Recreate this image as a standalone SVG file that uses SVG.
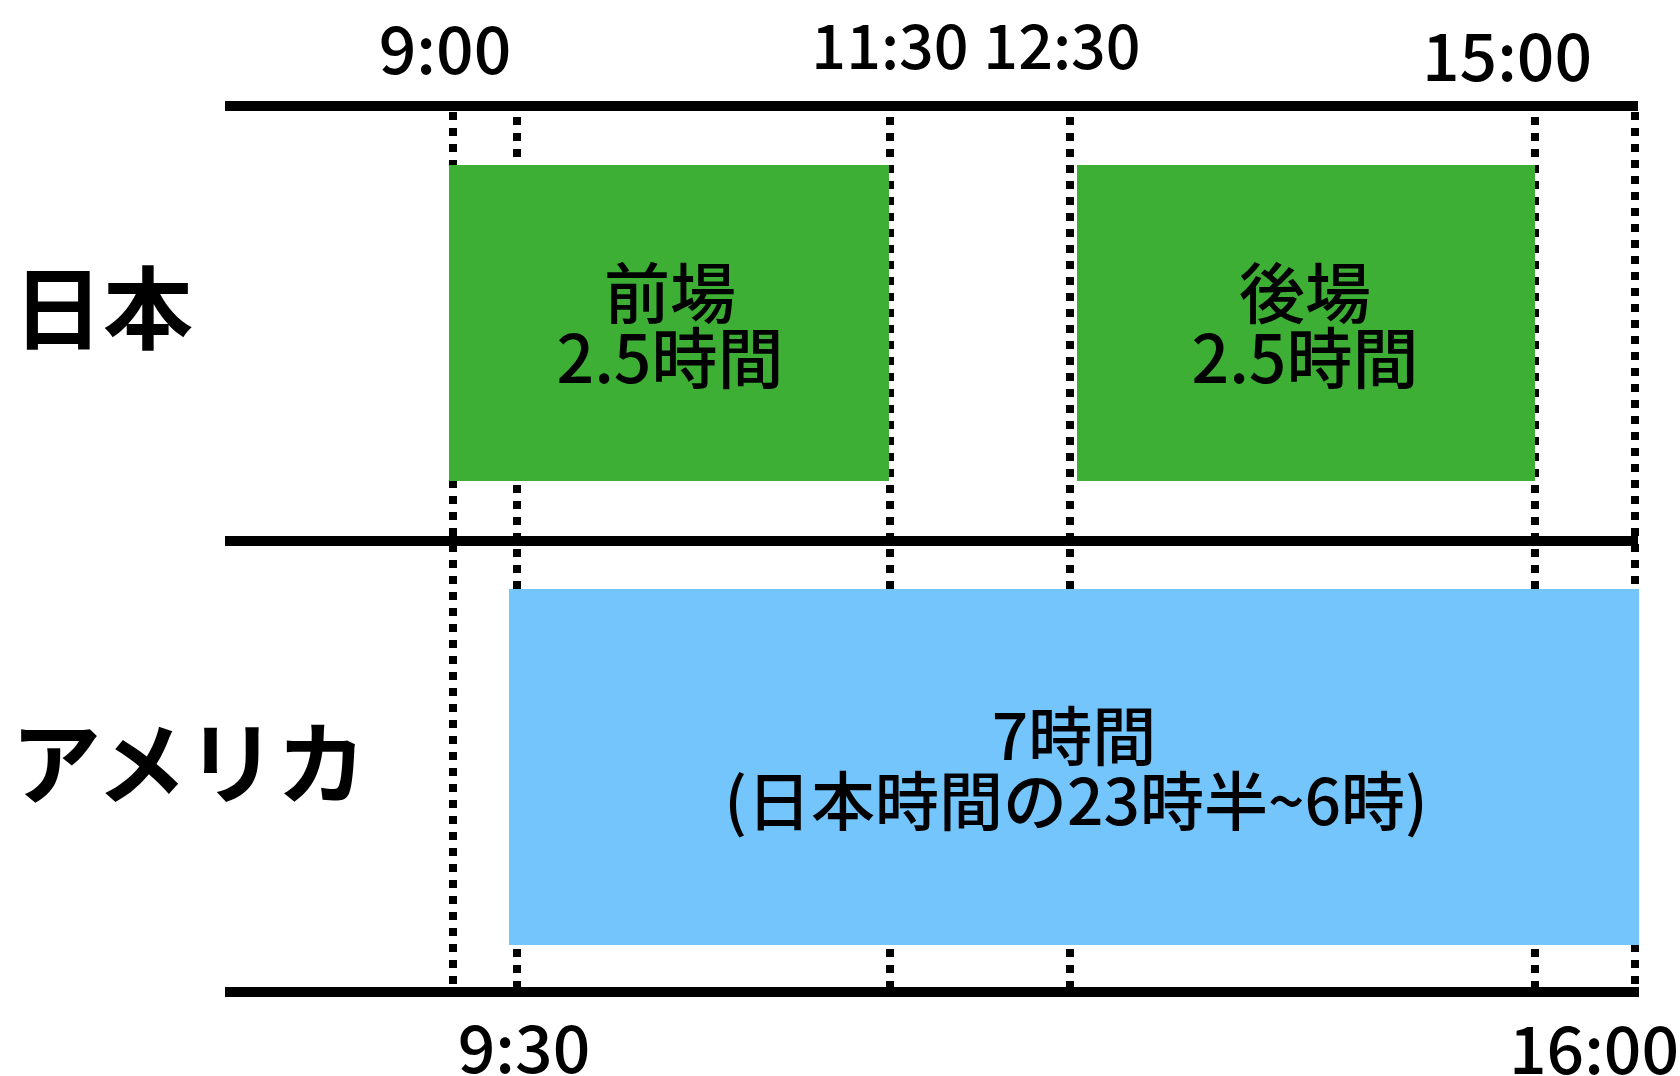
<svg xmlns="http://www.w3.org/2000/svg" width="1680" height="1076" viewBox="0 0 1680 1076">
<style>
.t{font-family:"Noto Sans CJK JP","Noto Sans",sans-serif;fill:#000;text-anchor:middle}
.tm{font-size:66px;font-weight:500}
.tb{font-size:64px;font-weight:500}
.ts{font-size:61px;font-weight:500}
.row{font-size:90px;font-weight:700;text-anchor:start}
.dot{stroke:#000;stroke-width:8;stroke-dasharray:8 8;fill:none}
.axis{stroke:#000;stroke-width:10;fill:none}
</style>
<rect width="1680" height="1076" fill="#fff"/>
<g id="connectors">
<line class="dot" x1="453" y1="112" x2="453" y2="987"/>
<line class="dot" x1="517" y1="101" x2="517" y2="987"/>
<line class="dot" x1="890" y1="101" x2="890" y2="987"/>
<line class="dot" x1="1070" y1="101" x2="1070" y2="987"/>
<line class="dot" x1="1535" y1="101" x2="1535" y2="987"/>
<line class="dot" x1="1635" y1="112" x2="1635" y2="987"/>
</g>
<g id="zenba">
<rect x="449" y="165" width="440" height="316" fill="#3DAF35"/>
<text class="t tm" x="670" y="318">前場</text>
<text class="t tm" x="670" y="383">2.5時間</text>
</g>
<g id="goba">
<rect x="1077" y="165" width="458" height="316" fill="#3DAF35"/>
<text class="t tm" x="1305" y="318">後場</text>
<text class="t tm" x="1305" y="383">2.5時間</text>
</g>
<g id="us">
<rect x="509" y="589" width="1130" height="356" fill="#74C5FB"/>
<text class="t tb" x="1074" y="760">7時間</text>
<text class="t tb" x="1076" y="825">(日本時間の23時半~6時)</text>
</g>
<g id="axes">
<line class="axis" x1="225" y1="106" x2="1638" y2="106"/>
<line class="axis" x1="225" y1="541" x2="1638" y2="541"/>
<line class="axis" x1="225" y1="992" x2="1639" y2="992"/>
</g>
<g id="labels">
<text class="t row" x="13" y="342">日本</text>
<text class="t row" x="11" y="797">アメリカ</text>
<text class="t tm" x="445" y="74">9:00</text>
<text class="t ts" x="890" y="69">11:30</text>
<text class="t ts" x="1062" y="69">12:30</text>
<text class="t tm" x="1507" y="81">15:00</text>
<text class="t tm" x="524" y="1073">9:30</text>
<text class="t tm" x="1594" y="1074">16:00</text>
</g>
</svg>
